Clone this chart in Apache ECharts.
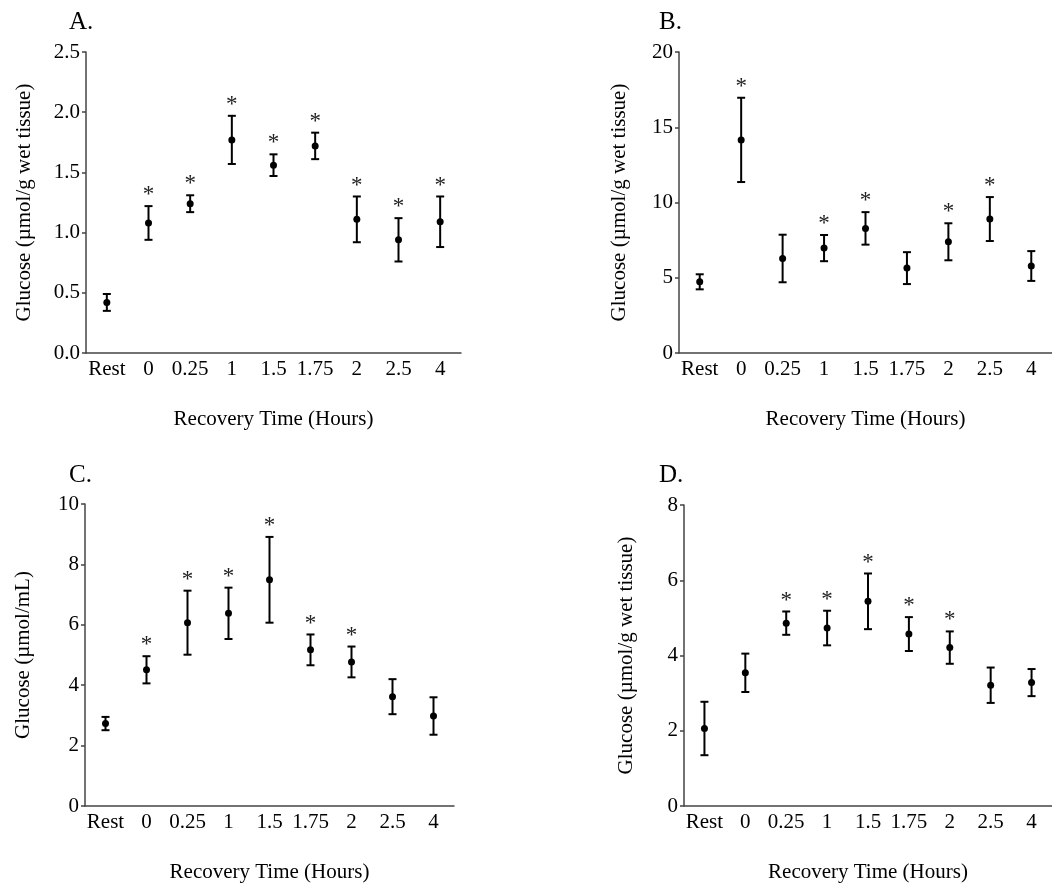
<!DOCTYPE html>
<html>
<head>
<meta charset="utf-8">
<script src="https://cdn.jsdelivr.net/npm/echarts@6/dist/echarts.min.js"></script>
<style>
  html, body { margin: 0; padding: 0; background: #fff; }
  #chart { width: 1052px; height: 888px; }
</style>
</head>
<body>
<div id="chart"></div>
<script>
const categories = ['Rest', '0', '0.25', '1', '1.5', '1.75', '2', '2.5', '4']

// A. muscle glucose
const meanA = [0.42, 1.08, 1.24, 1.77, 1.56, 1.72, 1.11, 0.94, 1.09]
const errA = [0.07, 0.14, 0.07, 0.20, 0.09, 0.11, 0.19, 0.18, 0.21]
const sigA = [0, 1, 1, 1, 1, 1, 1, 1, 1]

// B.
const meanB = [4.73, 14.16, 6.28, 6.97, 8.28, 5.64, 7.39, 8.90, 5.78]
const errB = [0.50, 2.80, 1.58, 0.87, 1.08, 1.06, 1.23, 1.46, 0.99]
const sigB = [0, 1, 0, 1, 1, 0, 1, 1, 0]

// C. plasma
const meanC = [2.73, 4.51, 6.07, 6.38, 7.49, 5.17, 4.77, 3.62, 2.98]
const errC = [0.22, 0.45, 1.06, 0.85, 1.42, 0.51, 0.51, 0.58, 0.62]
const sigC = [0, 1, 1, 1, 1, 1, 1, 0, 0]

// D.
const meanD = [2.06, 3.54, 4.86, 4.73, 5.44, 4.57, 4.21, 3.21, 3.28]
const errD = [0.71, 0.51, 0.31, 0.46, 0.74, 0.45, 0.43, 0.47, 0.36]
const sigD = [0, 0, 1, 1, 1, 1, 1, 0, 0]

const panelLabels = ['A.', 'B.', 'C.', 'D.']
const yNames = [
  'Glucose (µmol/g wet tissue)',
  'Glucose (µmol/g wet tissue)',
  'Glucose (µmol/mL)',
  'Glucose (µmol/g wet tissue)'
]
const yMax = [2.5, 20, 10, 8]
const yStep = [0.5, 5, 2, 2]
const xName = 'Recovery Time (Hours)'

const FONT = 'Liberation Serif'

const grids = [
  { left: 86, top: 52, width: 375, height: 301 },
  { left: 679, top: 52, width: 374, height: 301 },
  { left: 85, top: 504, width: 369, height: 302 },
  { left: 684, top: 505, width: 374, height: 301 }
]
const titlePos = [
  { left: 64, top: 5 },
  { left: 654, top: 5 },
  { left: 64, top: 458 },
  { left: 654, top: 458 }
]
const yNameGap = [51, 49, 51, 47]

const panels = [
  { mean: meanA, err: errA, sig: sigA },
  { mean: meanB, err: errB, sig: sigB },
  { mean: meanC, err: errC, sig: sigC },
  { mean: meanD, err: errD, sig: sigD }
]

const chart = echarts.init(document.getElementById('chart'))

const renderErr = (params, api) => {
  const i = api.value(0)
  const m = api.value(1)
  const e = api.value(2)
  const s = api.value(3)
  const top = api.coord([i, m + e])
  const bot = api.coord([i, m - e])
  const cap = 4
  const style = { stroke: '#000', lineWidth: 2 }
  const children = [
    { type: 'line', shape: { x1: top[0], y1: top[1], x2: bot[0], y2: bot[1] }, style },
    { type: 'line', shape: { x1: top[0] - cap, y1: top[1], x2: top[0] + cap, y2: top[1] }, style },
    { type: 'line', shape: { x1: bot[0] - cap, y1: bot[1], x2: bot[0] + cap, y2: bot[1] }, style }
  ]
  if (s) {
    children.push({
      type: 'text',
      style: {
        x: top[0],
        y: top[1] - 11,
        text: '*',
        fill: '#222',
        font: '23px "' + FONT + '"',
        align: 'center',
        verticalAlign: 'middle'
      }
    })
  }
  return { type: 'group', children }
}

const option = {
  backgroundColor: '#fff',
  animation: false,
  title: panelLabels.map((t, k) => ({
    text: t,
    left: titlePos[k].left,
    top: titlePos[k].top,
    textStyle: { fontFamily: FONT, fontSize: 25, fontWeight: 'normal', color: '#000' }
  })),
  grid: grids,
  xAxis: grids.map((g, k) => ({
    type: 'category',
    gridIndex: k,
    data: categories,
    boundaryGap: true,
    name: xName,
    nameLocation: 'middle',
    nameGap: 56,
    nameTextStyle: { fontFamily: FONT, fontSize: 21, color: '#000' },
    axisLine: { lineStyle: { color: '#444', width: 1.5 } },
    axisTick: { alignWithLabel: true, length: 4, lineStyle: { color: '#444', width: 1.5 } },
    axisLabel: { fontFamily: FONT, fontSize: 21, color: '#000', margin: 6, interval: 0 },
    splitLine: { show: false }
  })),
  yAxis: grids.map((g, k) => ({
    type: 'value',
    gridIndex: k,
    min: 0,
    max: yMax[k],
    interval: yStep[k],
    name: yNames[k],
    nameLocation: 'middle',
    nameRotate: 90,
    nameGap: yNameGap[k],
    nameTextStyle: { fontFamily: FONT, fontSize: 21, color: '#000' },
    axisLine: { show: true, lineStyle: { color: '#444', width: 1.5 } },
    axisTick: { show: true, length: 4, lineStyle: { color: '#444', width: 1.5 } },
    axisLabel: {
      fontFamily: FONT, fontSize: 21, color: '#000', margin: 6,
      formatter: k === 0 ? v => v.toFixed(1) : v => String(v)
    },
    splitLine: { show: false }
  })),
  series: panels.flatMap((p, k) => [
    {
      type: 'custom',
      xAxisIndex: k,
      yAxisIndex: k,
      renderItem: renderErr,
      data: p.mean.map((m, i) => [i, m, p.err[i], p.sig[i]]),
      z: 2
    },
    {
      type: 'scatter',
      xAxisIndex: k,
      yAxisIndex: k,
      symbol: 'circle',
      symbolSize: 7,
      itemStyle: { color: '#000', opacity: 1 },
      data: p.mean.map((m, i) => [i, m]),
      z: 3
    }
  ])
}

chart.setOption(option)
</script>
</body>
</html>
